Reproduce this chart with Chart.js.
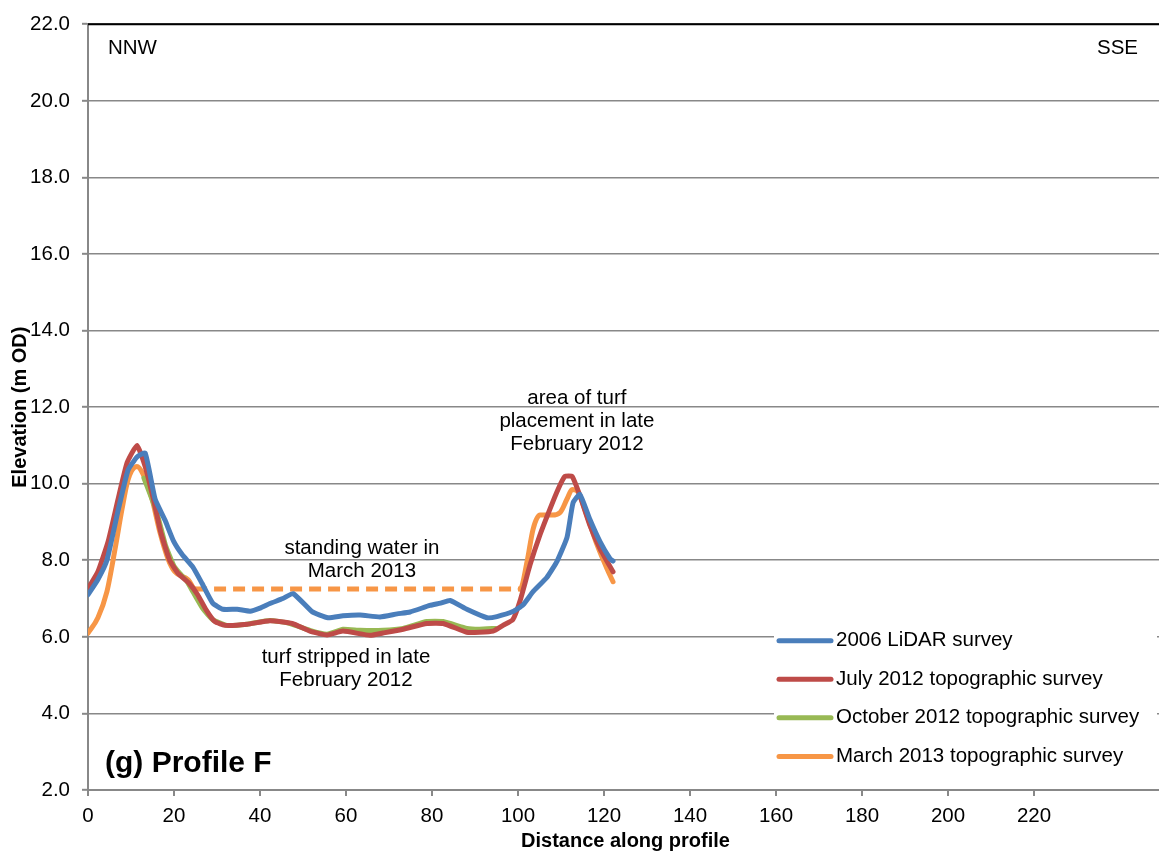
<!DOCTYPE html>
<html>
<head>
<meta charset="utf-8">
<script src="https://cdn.jsdelivr.net/npm/chart.js@4.4.1/dist/chart.umd.min.js"></script>
<style>
  html, body { margin: 0; padding: 0; background: #fff; overflow: hidden; }
  #wrap { position: relative; width: 1164px; height: 854px; }
</style>
</head>
<body>
<div id="wrap"><canvas id="profile"></canvas></div>
<script>
// Survey names (legend order)
const seriesNames = [
  '2006 LiDAR survey',
  'July 2012 topographic survey',
  'October 2012 topographic survey',
  'March 2013 topographic survey'
];

// 2006 LiDAR survey: distance (m) and elevation (m OD)
const lidarDist = [0, 2.3, 4.4, 7, 9.3, 11.4, 13.3, 15.6, 17.9, 19.9, 21.9, 24.4, 26.5, 29, 31.4, 34.7, 37.7, 40, 42.3, 45.3, 47.7, 52.1, 55.8, 59.3, 63.3, 67.9, 71.9, 74.9, 79.5, 82, 84.2, 88.1, 92.8, 95.1, 98.8, 101.2, 103.5, 106.7, 109.1, 111.4, 112.8, 114.4, 116.7, 119.1, 121.4, 122.1];
const lidarElev = [7.1, 7.5, 8.0, 9.3, 10.35, 10.7, 10.8, 9.6, 9.05, 8.5, 8.15, 7.82, 7.4, 6.88, 6.72, 6.72, 6.67, 6.75, 6.87, 7.0, 7.13, 6.66, 6.5, 6.55, 6.57, 6.52, 6.6, 6.65, 6.82, 6.88, 6.95, 6.72, 6.5, 6.53, 6.66, 6.84, 7.18, 7.55, 7.98, 8.6, 9.5, 9.72, 9.07, 8.48, 8.04, 7.98];

// July 2012 topographic survey
const julyDist = [0, 2.3, 4.7, 7, 9.1, 11.4, 13.3, 15.2, 17, 19, 21, 23.5, 25.5, 27.5, 29.5, 32, 37, 42.3, 47.5, 51.6, 55.6, 59.3, 65.6, 68.6, 73.3, 78.8, 82.6, 88.1, 91, 94.2, 96.5, 98.8, 100.5, 102.8, 105.1, 107.4, 109.3, 110.9, 112.6, 114.4, 116.7, 119.1, 122.1];
const julyElev = [7.26, 7.7, 8.5, 9.6, 10.55, 11.0, 10.45, 9.6, 8.7, 8.0, 7.65, 7.4, 7.1, 6.7, 6.4, 6.3, 6.33, 6.42, 6.35, 6.15, 6.05, 6.15, 6.04, 6.1, 6.2, 6.35, 6.35, 6.12, 6.12, 6.15, 6.3, 6.45, 6.95, 7.88, 8.66, 9.33, 9.85, 10.19, 10.19, 9.69, 8.92, 8.3, 7.7];

// October 2012 topographic survey
const octDist = [13, 16, 18, 20, 21.4, 23, 24.4, 26.7, 29, 32.3, 37, 42.3, 47, 51.6, 55.6, 59.3, 63.3, 68.6, 73.3, 78.8, 82.6, 88.1, 91, 94.8];
const octElev = [10.15, 9.25, 8.4, 7.85, 7.65, 7.45, 7.18, 6.74, 6.45, 6.3, 6.33, 6.43, 6.35, 6.17, 6.07, 6.2, 6.17, 6.17, 6.22, 6.4, 6.4, 6.22, 6.2, 6.22];

// March 2013 topographic survey (flat stretch = standing water surface)
const marchDist = [0, 2.3, 4.4, 6.3, 7.9, 9.3, 11.4, 12.8, 14.9, 16.7, 18.6, 20.2, 23.3, 24.9, 100.5, 102.1, 103.5, 105.1, 107.9, 109.8, 111.4, 112.6, 113.7, 116, 118.4, 120.7, 122.1];
const marchElev = [6.1, 6.5, 7.18, 8.3, 9.33, 10.1, 10.45, 10.25, 9.6, 8.74, 8.04, 7.7, 7.49, 7.25, 7.25, 7.96, 8.81, 9.18, 9.18, 9.25, 9.6, 9.85, 9.82, 9.18, 8.4, 7.78, 7.44];

// Standing-water stretch of the March 2013 line (drawn dashed)
const waterFrom = 24.9;
const waterTo = 100.5;

// Axis ranges
const xMin = 0, xMax = 250, xStep = 20;
const yMin = 2, yMax = 22, yStep = 2;

const seriesColors = ['#4A7EBB', '#BE4B48', '#98B954', '#F79646'];
const FONT = "'Liberation Sans', Arial, Helvetica, sans-serif";
const LINE_W = 5;

function pairs(xs, ys) { return xs.map((x, i) => ({ x: x, y: ys[i] })); }

const dists = [lidarDist, julyDist, octDist, marchDist];
const elevs = [lidarElev, julyElev, octElev, marchElev];

const datasets = seriesNames.map((name, i) => ({
  label: name,
  data: pairs(dists[i], elevs[i]),
  borderColor: seriesColors[i],
  backgroundColor: seriesColors[i],
  borderWidth: LINE_W,
  pointRadius: 0,
  pointHoverRadius: 0,
  fill: false,
  tension: 0.15,
  borderCapStyle: 'round',
  borderJoinStyle: 'round'
}));

// the March 2013 line keeps its water surface level, and draws it dashed
datasets[3].cubicInterpolationMode = 'monotone';
const onWater = ctx => ctx.p0.parsed.x >= waterFrom - 0.01 && ctx.p1.parsed.x <= waterTo + 0.01;
datasets[3].segment = {
  borderDash: ctx => onWater(ctx) ? [12, 7] : undefined,
  borderCapStyle: ctx => onWater(ctx) ? 'butt' : undefined
};

// Text notes placed in data coordinates
const notes = [
  { lines: ['standing water in', 'March 2013'], x: 63.7, y: 8.3 },
  { lines: ['turf stripped in late', 'February 2012'], x: 60.0, y: 5.47 },
  { lines: ['area of turf', 'placement in late', 'February 2012'], x: 113.7, y: 12.23 }
];

const decorPlugin = {
  id: 'decor',
  afterDatasetsDraw(chart) {
    const { ctx, chartArea: ca, scales } = chart;
    const sx = scales.x, sy = scales.y;
    ctx.save();

    // top frame line
    ctx.strokeStyle = '#000';
    ctx.lineWidth = 2;
    ctx.beginPath();
    ctx.moveTo(ca.left, ca.top);
    ctx.lineTo(ca.right, ca.top);
    ctx.stroke();

    // direction labels
    ctx.fillStyle = '#000';
    ctx.font = '20.5px ' + FONT;
    ctx.textBaseline = 'middle';
    ctx.textAlign = 'left';
    ctx.fillText('NNW', ca.left + 20, ca.top + 24);
    ctx.textAlign = 'right';
    ctx.fillText('SSE', sx.getPixelForValue(240) + 18, ca.top + 24);

    // notes
    ctx.textAlign = 'center';
    notes.forEach(n => {
      const px = sx.getPixelForValue(n.x);
      const py = sy.getPixelForValue(n.y);
      n.lines.forEach((t, k) => ctx.fillText(t, px, py + k * 23));
    });

    // panel label
    ctx.font = 'bold 30px ' + FONT;
    ctx.textAlign = 'left';
    ctx.textBaseline = 'alphabetic';
    ctx.fillText('(g) Profile F', ca.left + 17, sy.getPixelForValue(2.47));

    // legend box
    const lx = ca.left + 686, ly = sy.getPixelForValue(6.45);
    ctx.fillStyle = '#fff';
    ctx.fillRect(lx, ly, 383, sy.getPixelForValue(2.2) - ly);
    chart.data.datasets.forEach((ds, i) => {
      const rowY = ly + 21 + i * 38.6;
      ctx.strokeStyle = ds.borderColor;
      ctx.lineWidth = LINE_W;
      ctx.lineCap = 'round';
      ctx.beginPath();
      ctx.moveTo(lx + 5, rowY);
      ctx.lineTo(lx + 57, rowY);
      ctx.stroke();
      ctx.fillStyle = '#000';
      ctx.font = '20.5px ' + FONT;
      ctx.textAlign = 'left';
      ctx.textBaseline = 'middle';
      ctx.fillText(ds.label, lx + 62, rowY);
    });
    ctx.restore();
  }
};

new Chart(document.getElementById('profile'), {
  type: 'line',
  data: { datasets: datasets },
  options: {
    responsive: true,
    maintainAspectRatio: false,
    animation: false,
    events: [],
    layout: { padding: { top: 18, right: 1, bottom: 0, left: 0 } },
    plugins: { legend: { display: false }, tooltip: { enabled: false } },
    scales: {
      x: {
        type: 'linear',
        min: xMin, max: xMax,
        afterFit: s => { s.height = 64; s.paddingRight = 0; s.paddingLeft = 0; },
        afterBuildTicks: s => { s.ticks = s.ticks.filter(t => t.value % xStep === 0); },
        border: { color: '#888', width: 2 },
        grid: { drawOnChartArea: false, drawTicks: true, tickLength: 6, color: '#888', lineWidth: 2 },
        ticks: { stepSize: xStep, color: '#000', font: { family: FONT, size: 20.5 }, padding: 8, maxRotation: 0, autoSkip: false },
        title: { display: true, text: 'Distance along profile', color: '#000', font: { family: FONT, size: 20, weight: 'bold' }, padding: { top: 0, bottom: 1 } }
      },
      y: {
        min: yMin, max: yMax,
        afterFit: s => { s.width = 88; },
        border: { color: '#888', width: 2 },
        grid: {
          color: '#888',
          lineWidth: 1.6,
          tickLength: 6,
          tickColor: '#888',
          tickWidth: 2
        },
        ticks: { stepSize: yStep, color: '#000', font: { family: FONT, size: 20.5 }, padding: 12, callback: v => v.toFixed(1) },
        title: { display: true, text: 'Elevation (m OD)', color: '#000', font: { family: FONT, size: 20, weight: 'bold' }, padding: { top: 8, bottom: 0 } }
      }
    }
  },
  plugins: [decorPlugin]
});
</script>
</body>
</html>
